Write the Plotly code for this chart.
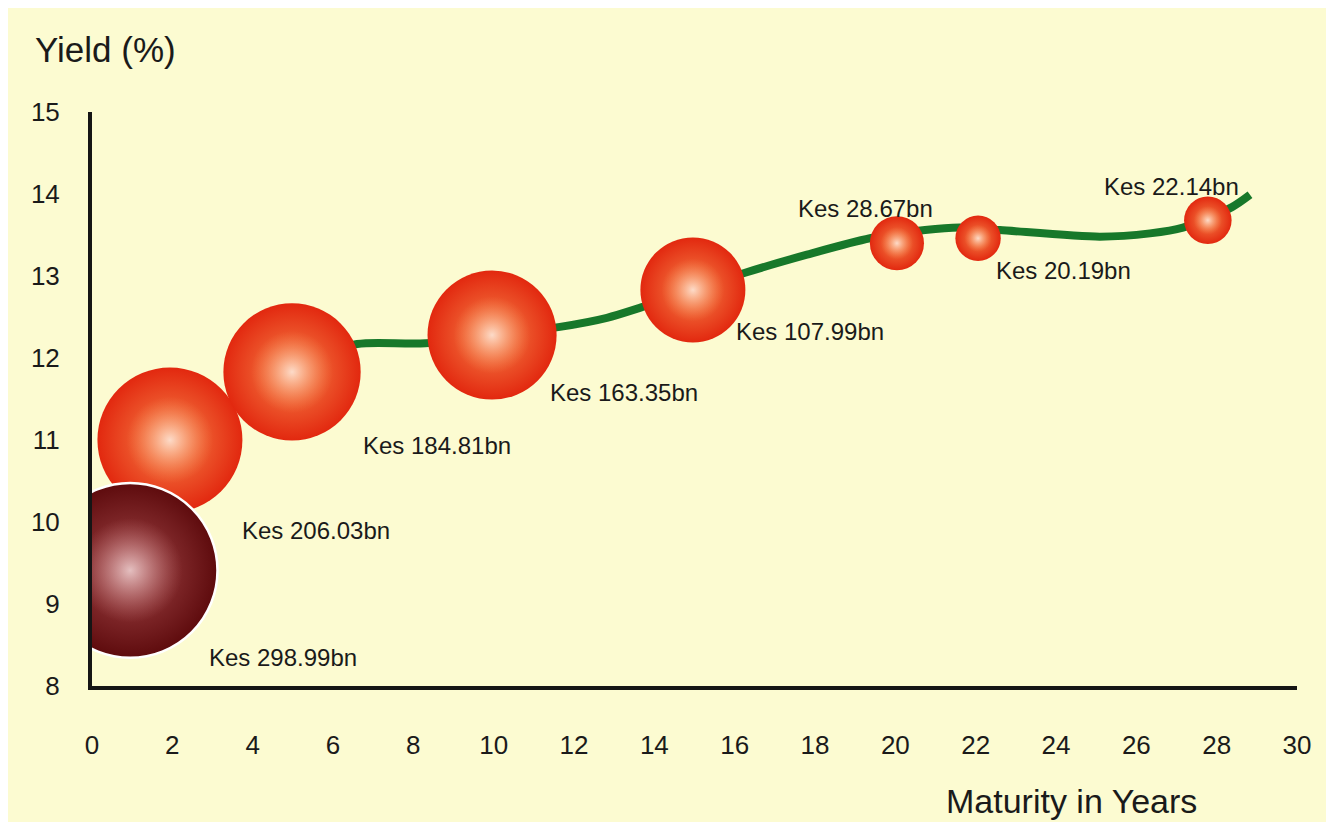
import plotly.graph_objects as go

# ---- data ----
maturity = [0.95, 1.94, 4.98, 9.96, 14.96, 20.04, 22.06, 27.78]
yield_pct = [9.41, 11.00, 11.83, 12.28, 12.83, 13.40, 13.46, 13.68]
amount_bn = [298.99, 206.03, 184.81, 163.35, 107.99, 28.67, 20.19, 22.14]
labels = ["Kes 298.99bn", "Kes 206.03bn", "Kes 184.81bn", "Kes 163.35bn",
          "Kes 107.99bn", "Kes 28.67bn", "Kes 20.19bn", "Kes 22.14bn"]

curve_x = [1.94, 4.98, 6.6, 8.3, 11.65, 12.82, 13.69, 16.26, 17.8, 19.37,
           20.74, 21.6, 22.6, 25.09, 26.34, 27.16, 28.38, 28.83]
curve_y = [11.0, 11.9, 12.17, 12.18, 12.38, 12.49, 12.62, 13.04, 13.26, 13.46,
           13.56, 13.59, 13.56, 13.48, 13.52, 13.59, 13.84, 13.99]

x_ticks = list(range(0, 31, 2))
y_ticks = list(range(8, 16))

# ---- styles ----
FONT = "Arial, Liberation Sans, sans-serif"
BG = "#FCFBD1"
W, H = 1318, 814  # page has an 8px body margin
# label offsets (px) relative to bubble centres
label_dx = [153, 146, 145, 132, 117, -31, 85, -36]
label_dy = [-87, -90, -74, -57, -42, 35, -32, 34]

order = [1, 2, 3, 4, 5, 6, 7, 0]  # dark bubble drawn last
is_dark = [i == 0 for i in range(len(maturity))]

edge_col = ["#5E0B0D" if d else "#E2280F" for d in is_dark]
mid_col = ["#A5484A" if d else "#F7864A" for d in is_dark]
hl_edge = ["rgba(215,140,140,0)" if d else "rgba(255,165,100,0)" for d in is_dark]
hl_center = ["#FFF2F2" if d else "#FFFFFF" for d in is_dark]
outline_w = [2.5 if d else 0 for d in is_dark]

SIZEREF = 2 / 10.1 ** 2
HL_FRAC = 0.6

pick = lambda arr: [arr[i] for i in order]

fig = go.Figure()

fig.add_trace(go.Scatter(
    x=curve_x, y=curve_y, mode="lines",
    line=dict(color="#17782A", width=8, shape="spline", smoothing=0.8),
    hoverinfo="skip", showlegend=False,
))

fig.add_trace(go.Scatter(
    x=pick(maturity), y=pick(yield_pct), mode="markers",
    marker=dict(
        size=pick(amount_bn), sizemode="area", sizeref=SIZEREF,
        color=pick(edge_col), opacity=1,
        gradient=dict(type="radial", color=pick(mid_col)),
        line=dict(width=pick(outline_w), color="white"),
    ),
    hoverinfo="skip", showlegend=False,
))

fig.add_trace(go.Scatter(
    x=pick(maturity), y=pick(yield_pct), mode="markers",
    marker=dict(
        size=pick(amount_bn), sizemode="area", sizeref=SIZEREF / HL_FRAC ** 2,
        color=pick(hl_edge),
        gradient=dict(type="radial", color=pick(hl_center)),
        line=dict(width=0),
    ),
    hoverinfo="skip", showlegend=False,
))

for xi, yi, t, dx, dy in zip(maturity, yield_pct, labels, label_dx, label_dy):
    fig.add_annotation(x=xi, y=yi, text=t, showarrow=False,
                       xshift=dx, yshift=dy, xanchor="center", yanchor="middle",
                       font=dict(family=FONT, size=24, color="#1A1A1A"))

fig.add_annotation(xref="paper", yref="paper", x=0.813, y=-0.201,
                   text="Maturity in Years", showarrow=False,
                   xanchor="center", yanchor="middle",
                   font=dict(family=FONT, size=34, color="#1A1A1A"))

fig.update_layout(
    width=W, height=H,
    margin=dict(l=84, r=29, t=104, b=136),
    paper_bgcolor=BG, plot_bgcolor=BG,
    title=dict(text="Yield (%)", x=27 / W, xanchor="left",
               y=1 - 42 / H, yanchor="middle",
               font=dict(family=FONT, size=35, color="#1A1A1A")),
    xaxis=dict(range=[0, 30], tickvals=x_ticks, ticktext=[str(v) for v in x_ticks],
               showgrid=False, zeroline=False, showline=True, linewidth=4,
               linecolor="#151515", ticks="outside", ticklen=33,
               tickcolor="rgba(0,0,0,0)",
               tickfont=dict(family=FONT, size=26, color="#1A1A1A")),
    yaxis=dict(range=[8, 15], tickvals=y_ticks, ticktext=[str(v) for v in y_ticks],
               showgrid=False, zeroline=False, showline=True, linewidth=4,
               linecolor="#151515", ticks="outside", ticklen=23,
               tickcolor="rgba(0,0,0,0)",
               tickfont=dict(family=FONT, size=26, color="#1A1A1A")),
    showlegend=False,
)

fig.write_html("out.html")
